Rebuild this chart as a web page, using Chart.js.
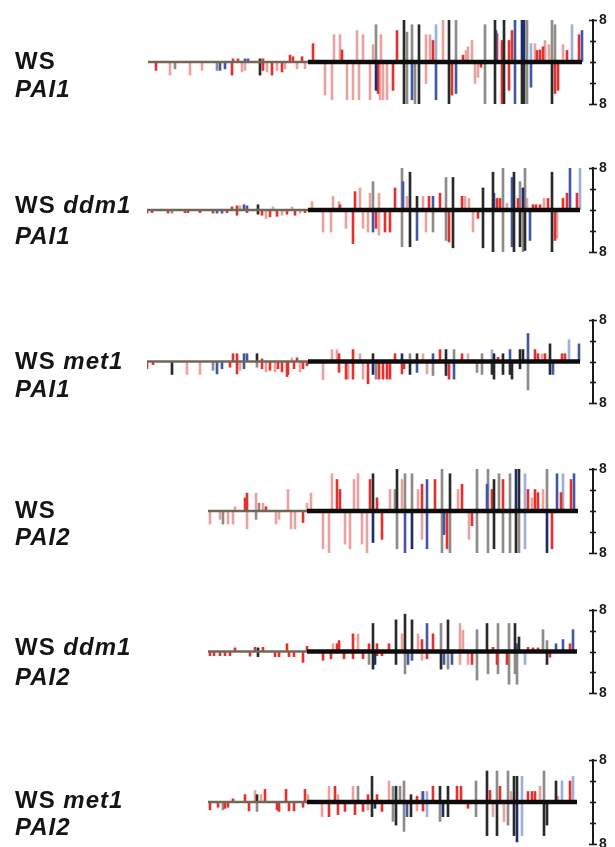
<!DOCTYPE html>
<html>
<head>
<meta charset="utf-8">
<script src="https://cdn.jsdelivr.net/npm/chart.js@4.4.1/dist/chart.umd.min.js"></script>
<style>
  html, body { margin: 0; padding: 0; background: #fff; }
  body { width: 615px; height: 847px; position: relative; overflow: hidden; }
  canvas { position: absolute; left: 0; }
  .lbl { position: absolute; left: 15px; font-family: 'Liberation Sans', Arial, sans-serif; font-weight: bold;
         font-size: 24px; line-height: 24px; letter-spacing: 1px; color: #151515; white-space: nowrap; }
  .lbl i { font-style: italic; }
</style>
</head>
<body>
<script>
// ---------- DATA ----------
// each entry: [position along sequence, methylation value (-8..8), context code]
// context codes: R/P = CHH-type (red / light red), K/G = CG-type (black / grey), B/L/N = CNG-type (blue shades)
const genotypes = ['', 'ddm1', 'met1', '', 'ddm1', 'met1'];
const genes     = ['PAI1', 'PAI1', 'PAI1', 'PAI2', 'PAI2', 'PAI2'];
const yRange    = [-8, 8];
const yStep     = 4;

// [region start, start of thick segment, region end]
const regions = [[1,161,435],[0,161,433],[0,161,433],[61,160,431],[61,160,430],[61,160,430]];

const ws_PAI1 = [
[9,-1.6,'R'],[23,-2.5,'P'],[28,-1.3,'G'],[43,-2.5,'P'],[55,-1.6,'P'],[70,-1.6,'G'],[73,-1.6,'B'],[78,-1.3,'B'],[85,-2.5,'R'],[86,0.6,'R'],[91,0.6,'R'],[95,-1.9,'P'],[98,0.6,'B'],[98,-1.6,'P'],[101,0.6,'B'],[113,-2.5,'K'],[113,0.6,'K'],[116,0.6,'R'],[116,-1.6,'R'],[120,-1.9,'P'],[125,-2.5,'R'],[130,-1.6,'P'],[135,-1.9,'R'],[138,-1.3,'P'],[143,1.3,'R'],[146,1.0,'R'],[150,-1.3,'P'],[155,1.0,'R'],[158,-1.3,'P'],
[166,3.5,'R'],[178,-6.3,'P'],[185,-7.2,'P'],[187,5.2,'P'],[193,5.2,'P'],[195,2.3,'R'],[200,-7.2,'P'],[206,-7.2,'P'],[210,6.0,'P'],[212,-7.2,'P'],[216,5.2,'P'],[223,-7.2,'P'],[226,3.3,'P'],[229,7.1,'G'],[229,-5.4,'N'],[231,-6,'R'],[233,-7.2,'P'],[234,5.2,'P'],[236,-7.2,'P'],[240,-7.2,'P'],[246,-5.4,'R'],[250,6,'R'],[257,8,'K'],[257,-8,'K'],[260,5.7,'G'],[260,-8,'G'],[265,7.1,'G'],[265,-7.2,'B'],[268,-8,'G'],[272,7.1,'K'],[272,-8,'K'],[279,5.2,'P'],[279,-4.1,'P'],[283,5.2,'P'],[286,4.1,'R'],[289,7.1,'L'],[289,-7.2,'B'],[296,8,'P'],[302,8,'K'],[302,-8,'K'],[305,-6.3,'R'],[309,8,'G'],[309,-6,'B'],[316,1.3,'R'],[319,2.2,'P'],[321,2.9,'P'],[325,4.1,'P'],[328,-4.1,'P'],[331,-2.9,'P'],[334,-1,'R'],[338,7.1,'G'],[338,-8,'G'],[348,8,'K'],[348,-8,'K'],[349,6,'B'],[350,5.4,'R'],[355,4.1,'R'],[355,-8,'R'],[357,8,'K'],[357,-8,'K'],[362,4.1,'R'],[362,-5.4,'R'],[365,6,'R'],[368,8,'B'],[368,-8,'B'],[375,8,'N'],[375,-8,'K'],[377,8,'N'],[377,-8,'K'],[380,8,'G'],[380,-8,'G'],[384,3.5,'L'],[384,-4.8,'B'],[388,3.5,'P'],[390,2.2,'R'],[393,2.3,'R'],[396,2.9,'R'],[398,4.1,'P'],[402,3.3,'P'],[405,8,'G'],[405,-8,'K'],[408,7.1,'G'],[408,-6,'R'],[411,-5.4,'R'],[416,3.3,'P'],[420,2.2,'R'],[425,7.1,'L'],[432,5.2,'R'],[435,6,'B']
];

const ddm1_PAI1 = [
[0,-0.6,'R'],[5,-0.5,'R'],[21,-0.6,'R'],[25,-0.6,'G'],[38,-0.5,'R'],[41,-0.5,'R'],[53,-0.5,'R'],[66,-0.6,'R'],[70,-0.6,'B'],[75,-0.6,'B'],[80,-0.5,'R'],[85,0.6,'R'],[90,0.8,'R'],[90,-1.0,'R'],[93,0.8,'P'],[97,1.0,'B'],[100,0.8,'B'],[100,-0.5,'R'],[111,1.0,'K'],[111,-0.8,'K'],[115,-1.0,'R'],[119,-1.6,'P'],[123,-1.3,'R'],[126,0.6,'P'],[130,-1.2,'R'],[135,-1.0,'P'],[140,-0.8,'R'],[145,0.6,'P'],[148,-1.0,'R'],[153,-0.6,'P'],[158,-0.5,'R'],[165,1.6,'P'],
[176,-4.2,'P'],[184,-4.2,'P'],[186,2.6,'P'],[192,1.6,'P'],[193,1.0,'R'],[199,-3.5,'P'],[206,-6.4,'R'],[208,3.5,'R'],[213,4.2,'P'],[216,-3.5,'P'],[221,-4.2,'P'],[223,3.2,'P'],[226,5.4,'G'],[226,-4.2,'B'],[229,-3.5,'R'],[232,3.2,'P'],[232,-4.8,'P'],[238,-4.2,'R'],[243,-4.2,'R'],[248,4.2,'R'],[255,8,'G'],[256,5.4,'B'],[255,-7,'G'],[260,2.6,'P'],[263,7.2,'K'],[263,-7,'K'],[270,2.6,'K'],[270,-5.8,'B'],[276,2.6,'P'],[279,-4.2,'P'],[282,2.6,'R'],[286,2.6,'B'],[286,-4.2,'G'],[293,3.2,'R'],[299,6.2,'G'],[299,-5.8,'G'],[302,-6.1,'R'],[306,6.2,'K'],[306,-7.2,'K'],[315,2.6,'R'],[318,2.6,'P'],[322,2.2,'P'],[326,-4.2,'P'],[331,-1.6,'R'],[336,4.2,'K'],[336,-7.2,'K'],[346,7.2,'K'],[346,-8,'K'],[347,3.2,'B'],[350,2.2,'R'],[353,2.2,'R'],[356,8,'G'],[356,-8,'G'],[360,1.3,'P'],[365,6.2,'B'],[365,-7,'B'],[367,7.2,'K'],[367,-8,'K'],[371,2.2,'R'],[373,5.4,'G'],[373,-7,'K'],[376,4.2,'N'],[376,-8,'G'],[378,8,'G'],[378,-7.7,'K'],[380,2.2,'P'],[383,-5.8,'B'],[386,1.0,'R'],[389,1.0,'R'],[393,1.0,'R'],[397,2.2,'P'],[401,2.2,'R'],[405,7.2,'K'],[405,-8,'K'],[408,-5.8,'R'],[410,-5.4,'P'],[416,2.2,'R'],[420,3.2,'R'],[423,8,'B'],[430,3.2,'R'],[433,8,'L']
];

const met1_PAI1 = [
[0,-1.4,'R'],[6,-0.6,'R'],[25,-2.5,'K'],[40,-2.5,'P'],[53,-2.5,'P'],[66,-1.7,'G'],[70,-2.4,'B'],[75,-1.4,'B'],[83,-1.1,'R'],[86,1.5,'R'],[90,1.5,'R'],[90,-2.4,'R'],[93,-1.7,'P'],[97,1.5,'B'],[97,-1.4,'B'],[100,1.5,'B'],[110,1.5,'K'],[110,-1.1,'G'],[115,0.5,'R'],[115,-1.4,'R'],[119,-2.0,'P'],[123,-1.7,'R'],[128,-2.0,'P'],[131,-1.4,'R'],[135,-2.0,'R'],[140,-2.9,'R'],[141,-2.5,'R'],[145,0.7,'P'],[147,-1.4,'R'],[150,0.7,'R'],[153,-2.0,'P'],[156,-1.4,'R'],[160,-0.8,'R'],
[176,-3.5,'P'],[185,2.3,'P'],[190,2.3,'P'],[192,1.5,'R'],[192,-2.1,'R'],[199,-3.4,'R'],[201,-3.4,'P'],[206,2.3,'R'],[206,-3.4,'R'],[213,1.5,'P'],[216,-3.4,'P'],[221,-4.3,'R'],[226,1.5,'K'],[226,-2.5,'N'],[229,-3.4,'G'],[232,-3.4,'R'],[236,-3.4,'R'],[240,-3.4,'R'],[243,-3.4,'R'],[248,1.5,'R'],[255,1.5,'N'],[255,-2.4,'R'],[257,-1.4,'R'],[263,1.5,'G'],[263,-2.5,'K'],[270,1.5,'K'],[270,-2.1,'B'],[276,1.5,'P'],[280,-2.4,'P'],[286,1.5,'B'],[286,-2.7,'G'],[293,2.3,'R'],[299,2.3,'K'],[299,-2.7,'K'],[302,-3.4,'R'],[307,2.3,'G'],[307,-3.4,'B'],[315,1.5,'R'],[321,1.5,'P'],[330,-2.1,'G'],[335,1.5,'G'],[335,-2.5,'G'],[345,2.3,'L'],[345,-2.5,'K'],[347,1.5,'K'],[347,-3.4,'K'],[351,0.8,'R'],[356,1.5,'K'],[356,-2.5,'K'],[363,2.3,'B'],[363,-2.5,'K'],[365,-3.4,'K'],[373,2.3,'K'],[373,-1.4,'K'],[376,2.3,'K'],[381,5.4,'B'],[381,-5.5,'G'],[388,2.3,'R'],[391,1.5,'R'],[395,1.5,'P'],[398,1.5,'R'],[403,3.4,'K'],[403,-2.5,'K'],[406,-2.5,'B'],[415,1.5,'R'],[418,1.5,'R'],[422,4.2,'L'],[432,3.4,'B']
];

const ws_PAI2 = [
[63,-2.5,'P'],[73,-1.6,'P'],[76,-2.5,'G'],[81,-2.5,'P'],[86,-2.5,'P'],[88,0.8,'P'],[98,2.5,'R'],[100,3.4,'R'],[100,-3.4,'P'],[109,3.4,'P'],[109,-1.6,'G'],[112,1.5,'G'],[116,1.5,'P'],[119,0.8,'R'],[129,-2.5,'P'],[132,-1.6,'P'],[141,4.1,'P'],[144,-3.4,'P'],[148,-3.4,'P'],[156,-2.2,'R'],[160,1.5,'P'],[164,3.4,'P'],
[176,-7.2,'P'],[182,-8,'P'],[185,7.1,'P'],[190,6,'R'],[193,4.1,'R'],[198,-6.3,'P'],[203,-7.2,'P'],[207,6,'P'],[211,7.1,'P'],[215,-6.3,'P'],[220,-8,'P'],[223,6,'R'],[226,7.1,'K'],[226,-6,'N'],[230,2.5,'R'],[235,-5.4,'R'],[243,4.1,'P'],[248,4.1,'G'],[250,8,'K'],[250,-7.2,'G'],[255,6,'P'],[258,7.1,'G'],[258,-8,'B'],[265,7.1,'G'],[265,-7.2,'N'],[271,4.1,'P'],[275,5.1,'R'],[275,-5.4,'P'],[280,6,'B'],[280,-7.2,'B'],[288,6,'R'],[295,8,'G'],[295,-8,'G'],[297,-4.5,'B'],[300,-7.2,'R'],[303,7.1,'K'],[303,-8,'G'],[311,4.1,'P'],[315,5.1,'R'],[322,-5.4,'P'],[325,-2.8,'R'],[330,8,'G'],[330,-8,'G'],[340,5.1,'B'],[341,8,'G'],[341,-8,'G'],[345,4.1,'R'],[347,6,'K'],[347,-7.2,'K'],[352,7.1,'G'],[356,6,'R'],[356,-8,'G'],[363,7.1,'G'],[363,-8,'G'],[369,8,'N'],[369,-8,'K'],[372,8,'K'],[372,-8,'G'],[378,7.1,'L'],[378,-7.2,'L'],[381,4.1,'R'],[385,2.5,'P'],[388,4.1,'R'],[391,3.5,'R'],[396,4.1,'P'],[400,8,'G'],[400,-8,'N'],[405,-7.2,'R'],[410,7.1,'B'],[414,3.5,'R'],[416,7.1,'L'],[424,6,'R'],[427,7.1,'B']
];

const ddm1_PAI2 = [
[63,-0.8,'R'],[67,-0.8,'R'],[73,-0.8,'R'],[78,-0.8,'R'],[83,-0.8,'R'],[88,0.7,'R'],[103,-0.9,'R'],[108,0.8,'R'],[111,0.7,'K'],[111,-1.0,'K'],[116,0.8,'R'],[128,-1.0,'R'],[132,-1.0,'R'],[140,1.5,'R'],[142,-1.0,'R'],[147,-1.0,'R'],[156,-2.1,'R'],[160,1.0,'R'],
[176,-1.7,'R'],[184,-1.4,'R'],[186,1.5,'P'],[190,1.5,'R'],[192,2.1,'R'],[197,-1.4,'R'],[206,3.4,'R'],[206,-1.4,'R'],[211,3.4,'P'],[216,-1.4,'R'],[222,1.5,'R'],[222,-2.5,'G'],[226,5.4,'K'],[226,-3.4,'K'],[228,-2.5,'N'],[230,1.5,'R'],[230,-0.8,'R'],[235,-0.8,'R'],[242,1.5,'R'],[249,6.1,'K'],[249,-2.5,'K'],[255,3.4,'P'],[258,7.2,'K'],[258,-4.3,'G'],[261,-2.5,'B'],[265,6.1,'K'],[265,-1.7,'B'],[271,3.4,'P'],[275,2.3,'R'],[275,-1.7,'P'],[280,5.4,'B'],[280,-1.4,'R'],[286,3.4,'R'],[294,5.4,'G'],[294,-3.4,'K'],[297,-2.5,'B'],[301,6.1,'K'],[301,-3.4,'G'],[305,-2.5,'B'],[313,5.4,'P'],[313,-2.5,'P'],[316,4.1,'P'],[321,-2.5,'P'],[325,-2.5,'R'],[330,4.2,'G'],[330,-5.5,'G'],[340,5.4,'K'],[341,-4.3,'G'],[346,0.8,'R'],[350,-2.5,'R'],[351,5.4,'G'],[351,-4.3,'G'],[360,-2.5,'R'],[362,5.4,'G'],[362,-6.3,'G'],[368,5.4,'K'],[368,-4.3,'G'],[370,1.5,'B'],[370,-6.3,'G'],[372,2.8,'K'],[378,-2.5,'L'],[381,0.8,'R'],[386,0.7,'R'],[391,0.7,'R'],[396,4.2,'G'],[400,2.1,'G'],[400,-2.5,'K'],[403,-1.1,'R'],[409,1.5,'B'],[416,2.3,'B'],[423,1.5,'R'],[426,4.2,'B']
];

const met1_PAI2 = [
[63,-1.5,'R'],[71,-1.0,'R'],[76,-1.5,'G'],[78,-1.2,'R'],[81,-1.0,'R'],[86,0.6,'R'],[98,1.4,'R'],[102,-1.7,'R'],[108,2.2,'P'],[110,1.4,'K'],[110,-1.8,'G'],[114,1.4,'P'],[118,2.4,'R'],[130,-1.5,'R'],[132,-1.8,'R'],[139,2.4,'R'],[142,-1.7,'R'],[147,-1.7,'R'],[156,-1.0,'R'],[158,2.4,'R'],[161,1.4,'P'],
[175,-2.8,'P'],[182,3.0,'P'],[182,-2.8,'R'],[188,3.0,'R'],[191,1.4,'P'],[191,-2.4,'R'],[198,-1.8,'R'],[206,3.0,'P'],[208,-2.4,'R'],[211,3.0,'G'],[216,-1.8,'R'],[221,1.4,'R'],[221,-1.5,'P'],[225,4.9,'K'],[225,-2.8,'K'],[228,-1.2,'N'],[230,1.4,'R'],[235,-1.8,'R'],[242,4.0,'P'],[246,3.0,'G'],[246,-3.7,'G'],[249,3.0,'K'],[249,-4.4,'K'],[253,3.0,'G'],[257,4.0,'G'],[257,-5.6,'G'],[260,-2.8,'B'],[264,1.4,'K'],[264,-2.8,'K'],[270,1.1,'R'],[270,-1.7,'P'],[275,2.0,'P'],[276,2.0,'B'],[276,-1.7,'R'],[280,2.0,'L'],[280,-2.8,'L'],[286,3.0,'R'],[293,3.0,'K'],[293,-3.7,'G'],[296,-2.8,'N'],[301,3.0,'K'],[301,-2.8,'K'],[310,3.0,'R'],[314,3.0,'R'],[321,-1.2,'R'],[329,4.0,'G'],[329,-2.8,'G'],[340,5.9,'K'],[340,-6.4,'K'],[343,2.2,'R'],[346,-2.8,'P'],[350,5.9,'G'],[350,-6.4,'K'],[353,3.0,'R'],[357,-3.7,'P'],[361,5.9,'G'],[361,-4.4,'G'],[364,2.0,'P'],[367,4.9,'K'],[367,-6.4,'K'],[370,4.9,'K'],[370,-7.6,'N'],[375,4.9,'L'],[375,-6.4,'L'],[381,2.0,'R'],[385,2.0,'R'],[388,2.0,'R'],[393,3.0,'P'],[397,5.9,'G'],[397,-6.4,'K'],[400,-4.4,'K'],[409,4.0,'K'],[411,1.1,'P'],[415,4.0,'L'],[423,4.0,'R'],[426,4.9,'L']
];

const panelsData = [ws_PAI1, ddm1_PAI1, met1_PAI1, ws_PAI2, ddm1_PAI2, met1_PAI2];

// ---------- STYLE / LAYOUT ----------
const palette = { R:'#e2322f', P:'#e8a3a1', K:'#2a2a2a', G:'#8e8c86', B:'#4258a6', L:'#9eafd9', N:'#1f2c6a' };
const drawOrder = ['P','L','G','R','B','K','N'];
const layoutCfg = {
  axisTop:    [20, 168, 320, 469, 610, 760],
  axisBottom: [104, 252, 403, 553, 693, 844],
  line1:      [69, 213, 369, 518, 655, 808],
  line2:      [97, 244, 397, 545, 685, 835],
  plotLeft: 147, plotRight: 593, pad: 20, xMax: 446
};

const axisMarks = {
  id: 'axisMarks',
  afterDraw(chart) {
    const ys = chart.scales.y, ctx = chart.ctx;
    const x = ys.left;
    ctx.save();
    ctx.strokeStyle = '#1a1a1a';
    ctx.lineWidth = 1.6;
    ys.ticks.forEach(t => {
      const y = Math.round(ys.getPixelForValue(t.value)) + 0.5;
      const w = Math.abs(t.value) === yRange[1] ? 4 : 3;
      ctx.beginPath(); ctx.moveTo(x - w, y); ctx.lineTo(x + w, y); ctx.stroke();
    });
    ctx.restore();
  }
};

function makePanel(i) {
  const top = layoutCfg.axisTop[i] - layoutCfg.pad;
  const h = layoutCfg.axisBottom[i] - layoutCfg.axisTop[i] + 2 * layoutCfg.pad;
  const cv = document.createElement('canvas');
  cv.width = 615; cv.height = h;
  cv.style.top = top + 'px'; cv.style.width = '615px'; cv.style.height = h + 'px';
  document.body.appendChild(cv);

  const rows = panelsData[i];
  const datasets = [];
  const [rs, ts, re] = regions[i];
  datasets.push({ type:'line', data:[{x:ts,y:0},{x:re,y:0}], borderColor:'#0d0d0d', borderWidth:4.5,
                  pointRadius:0, order:0, borderCapStyle:'butt' });
  datasets.push({ type:'line', data:[{x:rs,y:0},{x:ts,y:0}], borderColor:'#6f6757', borderWidth:2.5,
                  pointRadius:0, order:0, borderCapStyle:'butt' });
  drawOrder.forEach((code, k) => {
    const pts = rows.filter(r => r[2] === code).map(r => ({ x: r[0], y: r[1] }));
    if (!pts.length) return;
    datasets.push({ type:'bar', data: pts, backgroundColor: palette[code], borderWidth: 0,
                    barThickness: 2, grouped: false, order: 10 + (drawOrder.length - k) });
  });

  new Chart(cv, {
    type: 'bar',
    data: { datasets },
    options: {
      responsive: false, animation: false, devicePixelRatio: 1,
      layout: { padding: { left: layoutCfg.plotLeft, right: 615 - layoutCfg.plotRight - 20, top: layoutCfg.pad, bottom: layoutCfg.pad } },
      plugins: { legend: { display: false }, tooltip: { enabled: false } },
      scales: {
        x: { type: 'linear', min: 0, max: layoutCfg.xMax, display: false, offset: false },
        y: {
          position: 'right', min: yRange[0], max: yRange[1],
          afterFit: s => { s.width = 20; },
          border: { display: true, color: '#1a1a1a', width: 2 },
          grid: { drawOnChartArea: false, drawTicks: false },
          ticks: { stepSize: yStep, padding: 6, color: '#1a1a1a', autoSkip: false,
                   font: { family: "'Liberation Sans', Arial, sans-serif", size: 14, weight: 'bold' },
                   callback: v => (Math.abs(v) === yRange[1] ? String(Math.abs(v)) : '') }
        }
      }
    },
    plugins: [axisMarks]
  });

  // labels (real text)
  const l1 = document.createElement('div');
  l1.className = 'lbl';
  l1.style.top = (layoutCfg.line1[i] - 20.3) + 'px';
  l1.innerHTML = 'WS' + (genotypes[i] ? ' <i>' + genotypes[i] + '</i>' : '');
  document.body.appendChild(l1);
  const l2 = document.createElement('div');
  l2.className = 'lbl';
  l2.style.top = (layoutCfg.line2[i] - 20.3) + 'px';
  l2.innerHTML = '<i>' + genes[i] + '</i>';
  document.body.appendChild(l2);
}

for (let i = 0; i < 6; i++) makePanel(i);
</script>
</body>
</html>
